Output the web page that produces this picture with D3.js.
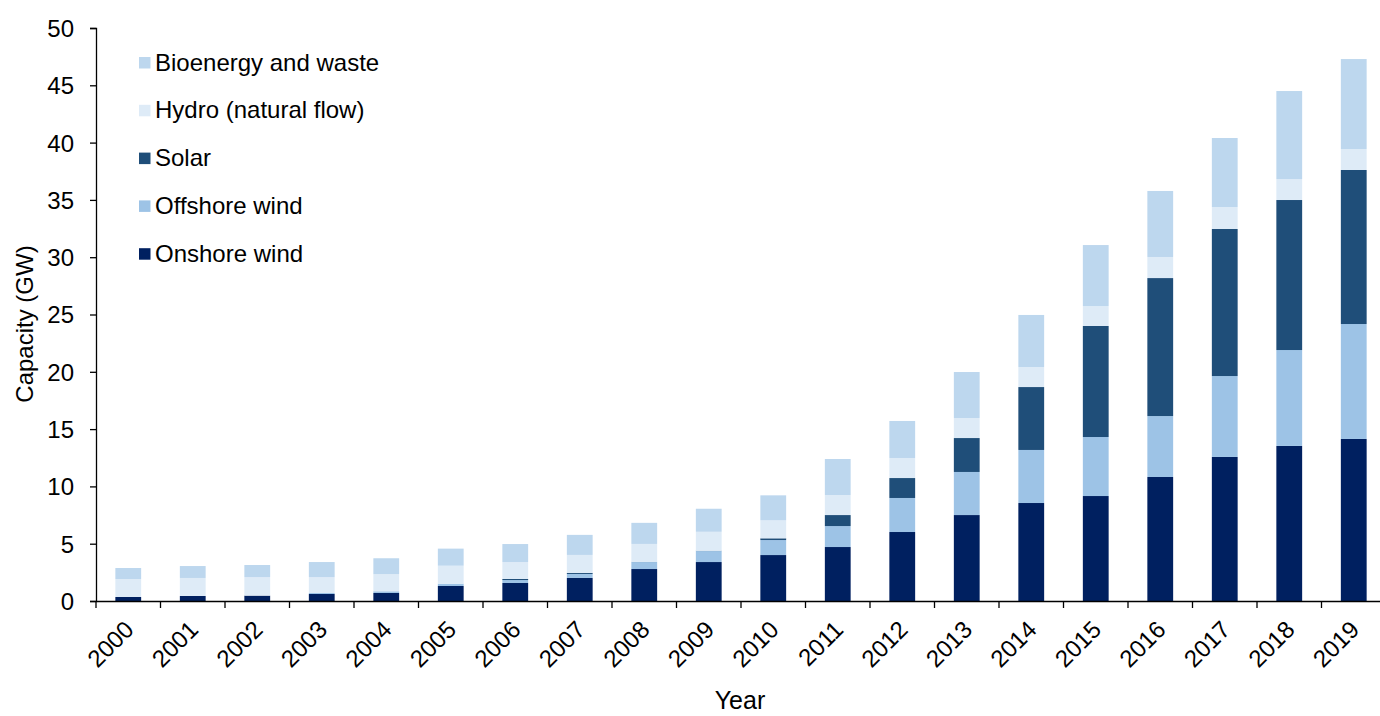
<!DOCTYPE html>
<html><head><meta charset="utf-8">
<script src="https://cdn.jsdelivr.net/npm/d3@7"></script>
<style>body{margin:0;background:#fff;}svg{display:block;font-family:Arial,"Liberation Sans",sans-serif;}</style>
</head><body>
<svg id="c" width="1380" height="716"></svg>
<script>
const years = ["2000","2001","2002","2003","2004","2005","2006","2007","2008","2009","2010","2011","2012","2013","2014","2015","2016","2017","2018","2019"];
const onshore  = [0.35,0.44,0.47,0.61,0.70,1.31,1.57,2.01,2.79,3.40,4.01,4.71,6.02,7.50,8.55,9.16,10.82,12.57,13.53,14.14];
const offshore = [0,0,0,0.09,0.15,0.2,0.26,0.35,0.61,0.96,1.31,1.83,2.97,3.76,4.63,5.15,5.32,7.06,8.37,10.03];
const solar    = [0,0,0,0,0,0,0.09,0.09,0.01,0.02,0.15,0.96,1.74,2.96,5.49,9.69,12.04,12.83,13.09,13.44];
const hydro    = [1.57,1.57,1.62,1.39,1.49,1.57,1.48,1.57,1.57,1.66,1.57,1.75,1.75,1.75,1.75,1.74,1.84,1.92,1.83,1.83];
const bio      = [0.96,1.04,1.05,1.31,1.39,1.49,1.57,1.75,1.84,2.01,2.18,3.14,3.23,4.01,4.54,5.32,5.76,6.02,7.68,7.85];
const seriesNames = ["Onshore wind","Offshore wind","Solar","Hydro (natural flow)","Bioenergy and waste"];
const seriesColors = ["#002060","#9DC3E6","#1F4E79","#DEEBF7","#BDD7EE"];
const yTicks = [0,5,10,15,20,25,30,35,40,45,50];

const keys = ["onshore","offshore","solar","hydro","bio"];
const table = years.map((y,i)=>({year:y,onshore:onshore[i],offshore:offshore[i],solar:solar[i],hydro:hydro[i],bio:bio[i]}));
const stacked = d3.stack().keys(keys)(table);
const FONT = "Arial,'Liberation Sans',sans-serif";

const svg = d3.select("#c");
const x = d3.scaleBand().domain(years).range([96,1386]).paddingInner(0.6).paddingOuter(0.3);
const y = d3.scaleLinear().domain([0,50]).range([601,28]);

// bars
svg.append("g").selectAll("g").data(stacked).join("g")
  .attr("fill",(d,i)=>seriesColors[i])
  .selectAll("rect").data(d=>d).join("rect")
  .attr("x",d=>x(d.data.year)).attr("width",x.bandwidth())
  .attr("y",d=>y(d[1])).attr("height",d=>Math.max(0,y(d[0])-y(d[1])));

// y axis
const yAx = svg.append("g").attr("transform","translate(96,0)")
  .call(d3.axisLeft(y).tickValues(yTicks).tickSize(6).tickPadding(16));
yAx.select(".domain").attr("stroke","#000").attr("stroke-width",1.3);
yAx.selectAll(".tick line").attr("stroke","#000").attr("stroke-width",1.3);
yAx.selectAll("text").attr("font-size",24).attr("fill","#000").attr("dy","0.35em").style("font-family",FONT);

// x axis
const xAx = svg.append("g").attr("transform","translate(0,601)")
  .call(d3.axisBottom(x).tickSize(0).tickPadding(0));
xAx.select(".domain").attr("stroke","#000").attr("stroke-width",1.5);
xAx.selectAll(".tick text").attr("font-size",24).attr("fill","#000")
  .style("font-family",FONT)
  .attr("text-anchor","end").attr("y",0).attr("dy","0")
  .attr("transform","translate(7,30) rotate(-45)");
// boundary ticks
const step = x.step();
const bounds = d3.range(years.length+1).map(i=>x.range()[0]+i*step);
svg.append("g").selectAll("line").data(bounds).join("line")
  .attr("x1",d=>d).attr("x2",d=>d).attr("y1",601).attr("y2",608)
  .attr("stroke","#000").attr("stroke-width",1.3);

// axis titles
svg.append("text").attr("x",740).attr("y",709).attr("text-anchor","middle")
  .attr("font-size",25).text("Year");
svg.append("text").attr("transform","translate(33,324) rotate(-90)").attr("text-anchor","middle")
  .attr("font-size",24).text("Capacity (GW)");

// legend
const legOrder = [4,3,2,1,0];
const lg = svg.append("g").selectAll("g").data(legOrder).join("g")
  .attr("transform",(d,i)=>`translate(139,${57+i*47.8})`);
lg.append("rect").attr("width",11.5).attr("height",11.5).attr("fill",d=>seriesColors[d]);
lg.append("text").attr("x",16).attr("y",13.5).attr("font-size",24).attr("fill","#000").text(d=>seriesNames[d]);
</script>
</body></html>
